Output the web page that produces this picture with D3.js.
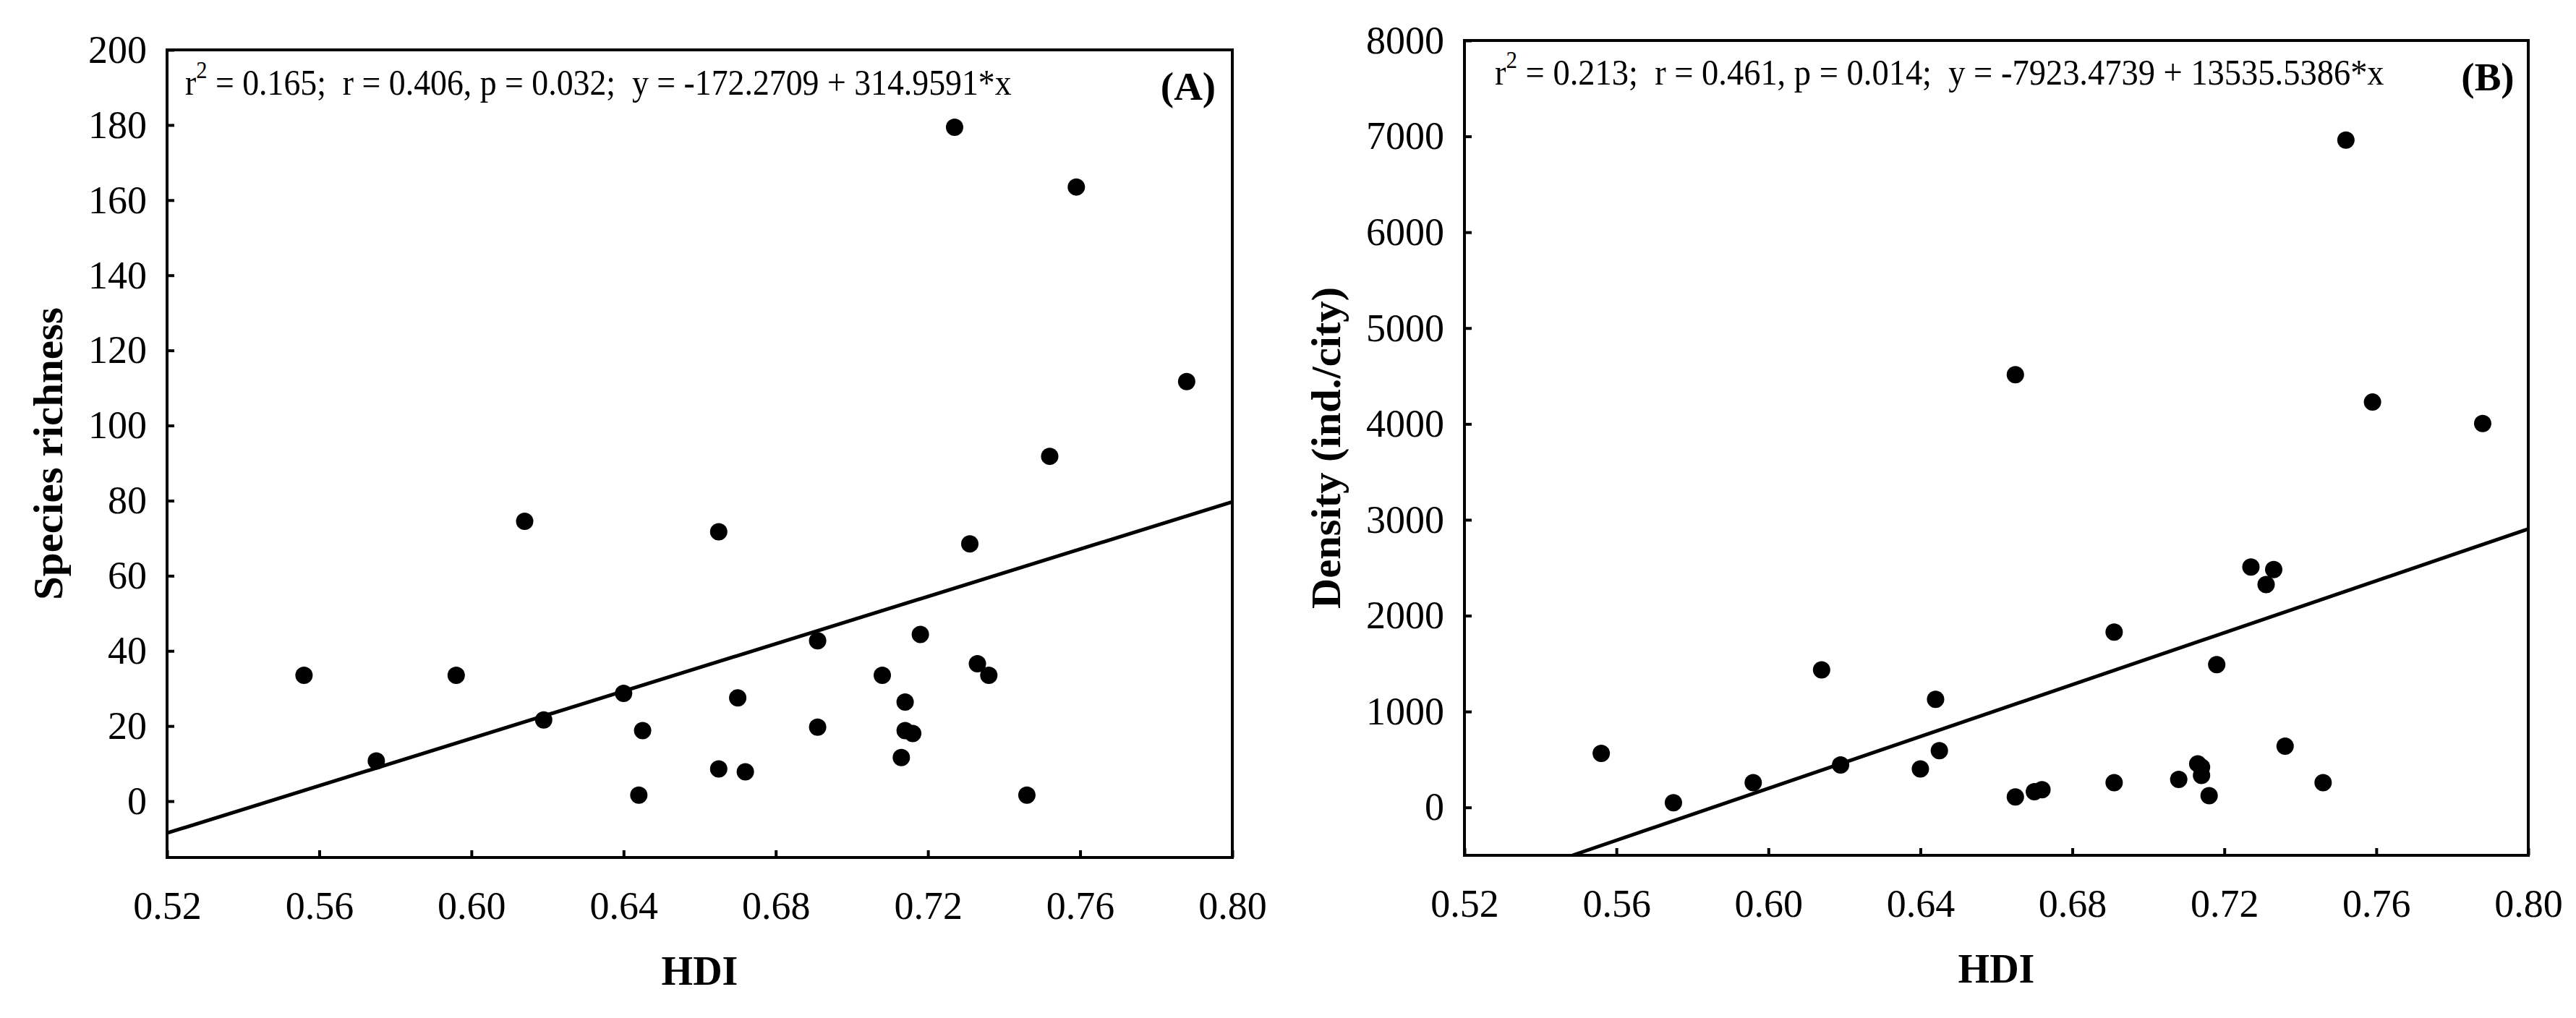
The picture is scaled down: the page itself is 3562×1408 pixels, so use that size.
<!DOCTYPE html>
<html>
<head>
<meta charset="utf-8">
<script src="https://cdn.jsdelivr.net/npm/d3@7"></script>
<style>
  body { margin: 0; background: #fff; }
  svg text { font-family: "Liberation Serif", "Times New Roman", serif; fill: #000; }
</style>
</head>
<body>
<div id="chart"></div>
<script>
// Panel A: species richness vs HDI
var richnessHdi = [0.556, 0.575, 0.596, 0.614, 0.619, 0.640, 0.645, 0.644, 0.665, 0.665,
  0.670, 0.672, 0.691, 0.691, 0.708, 0.714, 0.714, 0.716, 0.713, 0.718,
  0.727, 0.731, 0.733, 0.736, 0.746, 0.752, 0.759, 0.788];
var richness = [33.5, 10.7, 33.5, 74.5, 21.6, 28.7, 18.8, 1.6, 71.7, 8.6,
  27.5, 7.8, 42.7, 19.7, 33.5, 26.4, 18.8, 18.0, 11.6, 44.4,
  179.4, 68.5, 36.6, 33.5, 1.6, 91.8, 163.5, 111.7];

// Panel B: density vs HDI
var densityHdi = [0.556, 0.575, 0.596, 0.614, 0.619, 0.640, 0.644, 0.645, 0.665, 0.665,
  0.670, 0.672, 0.691, 0.691, 0.708, 0.713, 0.714, 0.714, 0.716, 0.718,
  0.727, 0.731, 0.733, 0.736, 0.746, 0.752, 0.759, 0.788];
var density = [564, 48, 258, 1434, 442, 401, 1128, 591, 4514, 109,
  163, 184, 1829, 258, 292, 455, 421, 333, 122, 1489,
  2508, 2325, 2481, 639, 258, 6961, 4228, 4004];

// axis ticks
var hdiTicks = [0.52, 0.56, 0.60, 0.64, 0.68, 0.72, 0.76, 0.80];
var richnessTicks = [0, 20, 40, 60, 80, 100, 120, 140, 160, 180, 200];
var densityTicks = [0, 1000, 2000, 3000, 4000, 5000, 6000, 7000, 8000];

// regression fits (intercept, slope) and their labels
var richnessFit = [-172.2709, 314.9591];
var densityFit = [-7923.4739, 13535.5386];
var richnessStats = ["0.165", "0.406", "0.032"];
var densityStats = ["0.213", "0.461", "0.014"];

var svgWidth = 3562;
var svgHeight = 1408;

var svg = d3
  .select("#chart")
  .append("svg")
  .attr("width", svgWidth)
  .attr("height", svgHeight)
  .style("display", "block");

svg.append("rect").attr("width", svgWidth).attr("height", svgHeight).attr("fill", "#fff");

// squeeze a left-anchored text horizontally so it spans the given width
function squeezeTo(textSel, x0, targetWidth) {
  var w = textSel.node().getComputedTextLength();
  var s = targetWidth / w;
  textSel.attr("transform", `translate(${x0},0) scale(${s},1) translate(${-x0},0)`);
}

function drawPanel(p) {
  var x = d3.scaleLinear().domain([0.52, 0.80]).range([p.left, p.right]);
  var y = d3.scaleLinear().domain(p.yDomain).range([p.bottom, p.top]);

  var g = svg.append("g");

  // y axis, ticks pointing inward
  var yAxis = g
    .append("g")
    .attr("transform", `translate(${p.left},0)`)
    .call(d3.axisLeft(y).tickValues(p.yTicks).tickSize(-10).tickPadding(28).tickFormat(d3.format("d")));
  yAxis.select(".domain").remove();
  yAxis.selectAll("line").attr("stroke", "#000").attr("stroke-width", 4);
  yAxis.selectAll("text").style("font-size", "54px").attr("font-family", null);

  // x axis, ticks inward as well
  var xAxis = g
    .append("g")
    .attr("transform", `translate(0,${p.bottom})`)
    .call(d3.axisBottom(x).tickValues(hdiTicks).tickSize(-10).tickPadding(47).tickFormat(d3.format(".2f")));
  xAxis.select(".domain").remove();
  xAxis.selectAll("line").attr("stroke", "#000").attr("stroke-width", 4);
  xAxis.selectAll("text").style("font-size", "54px").attr("font-family", null);

  // regression line, clipped at the frame
  var a = p.fit[0], b = p.fit[1];
  var x0 = Math.max(0.52, (p.yDomain[0] - a) / b);
  var x1 = Math.min(0.80, (p.yDomain[1] - a) / b);
  g.append("line")
    .attr("x1", x(x0)).attr("y1", y(a + b * x0))
    .attr("x2", x(x1)).attr("y2", y(a + b * x1))
    .attr("stroke", "#000")
    .attr("stroke-width", 5);

  // points
  g.append("g")
    .selectAll("circle")
    .data(p.xs)
    .enter()
    .append("circle")
    .attr("cx", (d) => x(d))
    .attr("cy", (d, i) => y(p.ys[i]))
    .attr("r", 12)
    .attr("fill", "#000");

  // frame
  g.append("rect")
    .attr("x", p.left).attr("y", p.top)
    .attr("width", p.right - p.left).attr("height", p.bottom - p.top)
    .attr("fill", "none")
    .attr("stroke", "#000")
    .attr("stroke-width", 4);

  // statistics line
  var stat = g.append("text")
    .attr("x", p.statX)
    .attr("y", p.statY)
    .style("font-size", "51px")
    .style("white-space", "pre");
  stat.append("tspan").text("r");
  stat.append("tspan").attr("dy", -23).style("font-size", "34px").text("2");
  stat.append("tspan").attr("dy", 23)
    .text(` = ${p.stats[0]};  r = ${p.stats[1]}, p = ${p.stats[2]};  y = ${a} + ${b}*x`);
  squeezeTo(stat, p.statX, p.statWidth);

  // panel letter
  g.append("text")
    .attr("x", p.letterX)
    .attr("y", p.letterY)
    .attr("text-anchor", "middle")
    .style("font-size", "55px")
    .style("font-weight", "bold")
    .text(p.letter);

  // axis titles
  g.append("text")
    .attr("x", (p.left + p.right) / 2)
    .attr("y", p.bottom + 176)
    .attr("text-anchor", "middle")
    .style("font-size", "56px")
    .style("font-weight", "bold")
    .text("HDI");

  g.append("text")
    .attr("transform", `translate(${p.titleX},${(p.top + p.bottom) / 2}) rotate(-90)`)
    .attr("text-anchor", "middle")
    .attr("textLength", p.titleLength)
    .attr("lengthAdjust", "spacingAndGlyphs")
    .style("font-size", "56px")
    .style("font-weight", "bold")
    .text(p.yTitle);
}

drawPanel({
  left: 231, right: 1704, top: 69, bottom: 1186,
  yDomain: [-15, 200], yTicks: richnessTicks,
  xs: richnessHdi, ys: richness,
  fit: richnessFit, stats: richnessStats,
  statX: 256, statY: 131, statWidth: 1143,
  letter: "(A)", letterX: 1643, letterY: 138,
  titleX: 86, yTitle: "Species richness", titleLength: 405
});

drawPanel({
  left: 2025, right: 3496, top: 56, bottom: 1183,
  yDomain: [-500, 8000], yTicks: densityTicks,
  xs: densityHdi, ys: density,
  fit: densityFit, stats: densityStats,
  statX: 2067, statY: 117, statWidth: 1230,
  letter: "(B)", letterX: 3440, letterY: 125,
  titleX: 1853, yTitle: "Density (ind./city)", titleLength: 445
});
</script>
</body>
</html>
